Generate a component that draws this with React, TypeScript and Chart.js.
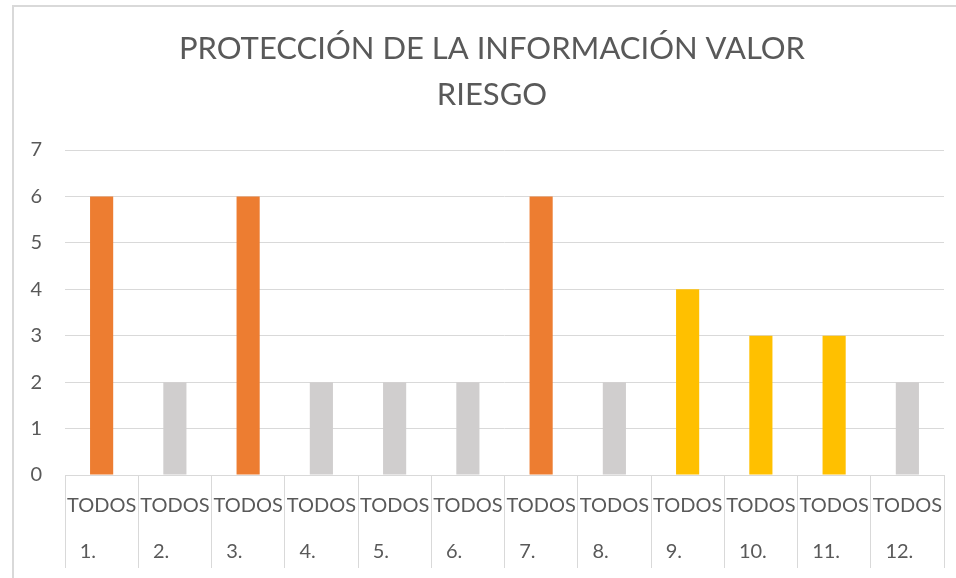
import React, { useEffect, useRef } from "react";
import { Chart, registerables } from "chart.js";

Chart.register(...registerables);

const TITLE_LINES = ["PROTECCIÓN DE LA INFORMACIÓN VALOR", "RIESGO"];
const CATEGORY_LABELS = ["TODOS", "TODOS", "TODOS", "TODOS", "TODOS", "TODOS", "TODOS", "TODOS", "TODOS", "TODOS", "TODOS", "TODOS"];
const NUMBER_LABELS = ["1.", "2.", "3.", "4.", "5.", "6.", "7.", "8.", "9.", "10.", "11.", "12."];
const VALUES = [6, 2, 6, 2, 2, 2, 6, 2, 4, 3, 3, 2];
const LEVELS = ["alto", "bajo", "alto", "bajo", "bajo", "bajo", "alto", "bajo", "medio", "medio", "medio", "bajo"];
const LEVEL_COLORS: Record<string, string> = { alto: "#ED7D31", medio: "#FFC000", bajo: "#D0CECE" };
const Y_MIN = 0;
const Y_MAX = 7;

const FONT = "Lato";
const TEXT = "#595959";
const GRID = "#D9D9D9";

export default function App() {
  const ref = useRef<HTMLCanvasElement | null>(null);
  useEffect(() => {
    if (!ref.current) return;
    const chart = new Chart(ref.current, {
      type: "bar",
      data: {
        labels: CATEGORY_LABELS,
        datasets: [
          {
            data: VALUES,
            backgroundColor: LEVELS.map((l) => LEVEL_COLORS[l]),
            borderWidth: 0,
            categoryPercentage: 1,
            barPercentage: 0.316,
          },
        ],
      },
      options: {
        responsive: false,
        animation: false,
        layout: { padding: { left: 0, right: 0, top: 0, bottom: 0 } },
        plugins: {
          legend: { display: false },
          tooltip: { enabled: false },
          title: {
            display: true,
            text: TITLE_LINES,
            color: TEXT,
            font: { family: FONT, size: 31, weight: "normal", lineHeight: "46px" },
            padding: { top: 26, bottom: 32 },
          },
        },
        scales: {
          x: {
            type: "category",
            position: "bottom",
            weight: 0,
            offset: true,
            grid: {
              display: true,
              drawOnChartArea: false,
              drawTicks: true,
              tickLength: 93,
              color: GRID,
              offset: true,
            },
            border: { display: true, color: GRID },
            ticks: {
              color: TEXT,
              font: { family: FONT, size: 20 },
              padding: -74,
              maxRotation: 0,
              minRotation: 0,
              autoSkip: false,
            },
            afterFit: (s: any) => {
              s.height = 50;
            },
          },
          x2: {
            type: "category",
            position: "bottom",
            weight: 1,
            offset: true,
            labels: NUMBER_LABELS,
            grid: { display: false, drawTicks: false },
            border: { display: false },
            ticks: {
              color: TEXT,
              font: { family: FONT, size: 20 },
              align: "start",
              labelOffset: -22,
              padding: 15,
              maxRotation: 0,
              minRotation: 0,
              autoSkip: false,
            },
            afterFit: (s: any) => {
              s.height = 53;
            },
          },
          y: {
            position: "left",
            min: Y_MIN,
            max: Y_MAX,
            grid: { color: GRID, drawTicks: false },
            border: { display: false },
            ticks: {
              stepSize: 1,
              color: TEXT,
              font: { family: FONT, size: 20 },
              padding: 23,
            },
            afterFit: (s: any) => {
              s.width = 65;
            },
          },
          yRight: {
            position: "right",
            min: Y_MIN,
            max: Y_MAX,
            grid: { display: false, drawTicks: false },
            border: { display: false },
            ticks: { display: false },
            afterFit: (s: any) => {
              s.width = 40;
            },
          },
        },
      },
    } as any);
    return () => chart.destroy();
  }, []);

  return (
    <div style={{ position: "absolute", left: 0, top: 0, width: 956, height: 578, overflow: "hidden", background: "#fff" }}>
      <div
        style={{
          position: "absolute",
          left: 12,
          top: 5,
          width: 1000,
          height: 1000,
          borderLeft: `2px solid ${GRID}`,
          borderTop: `2px solid ${GRID}`,
        }}
      />
      <canvas ref={ref} width={984} height={578} style={{ position: "absolute", left: 0, top: 0, display: "block" }} />
    </div>
  );
}
